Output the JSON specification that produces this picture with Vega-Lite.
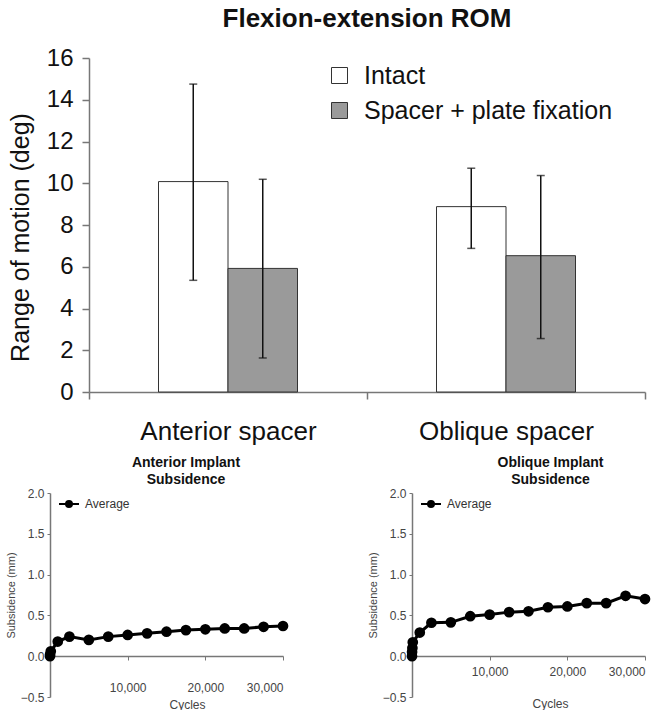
{
  "$schema": "https://vega.github.io/schema/vega-lite/v6.json",
  "background": "white",
  "padding": {"left": 5, "top": 6, "right": 0, "bottom": 0},
  "config": {"font": "Liberation Sans", "view": {"stroke": null}},
  "datasets": {
    "rom": [
      {"approach": "Anterior spacer", "condition": "Intact", "mean": 10.08, "low": 5.35, "high": 14.75},
      {"approach": "Anterior spacer", "condition": "Spacer + plate fixation", "mean": 5.92, "low": 1.63, "high": 10.19},
      {"approach": "Oblique spacer", "condition": "Intact", "mean": 8.88, "low": 6.88, "high": 10.72},
      {"approach": "Oblique spacer", "condition": "Spacer + plate fixation", "mean": 6.53, "low": 2.56, "high": 10.37}
    ],
    "anterior": [
      {"cycles": 0, "subsidence": 0.0, "series": "Average"},
      {"cycles": 10, "subsidence": 0.02, "series": "Average"},
      {"cycles": 100, "subsidence": 0.06, "series": "Average"},
      {"cycles": 1000, "subsidence": 0.18, "series": "Average"},
      {"cycles": 2500, "subsidence": 0.24, "series": "Average"},
      {"cycles": 5000, "subsidence": 0.2, "series": "Average"},
      {"cycles": 7500, "subsidence": 0.24, "series": "Average"},
      {"cycles": 10000, "subsidence": 0.26, "series": "Average"},
      {"cycles": 12500, "subsidence": 0.28, "series": "Average"},
      {"cycles": 15000, "subsidence": 0.3, "series": "Average"},
      {"cycles": 17500, "subsidence": 0.32, "series": "Average"},
      {"cycles": 20000, "subsidence": 0.33, "series": "Average"},
      {"cycles": 22500, "subsidence": 0.34, "series": "Average"},
      {"cycles": 25000, "subsidence": 0.34, "series": "Average"},
      {"cycles": 27500, "subsidence": 0.36, "series": "Average"},
      {"cycles": 30000, "subsidence": 0.37, "series": "Average"}
    ],
    "oblique": [
      {"cycles": 0, "subsidence": 0.0, "series": "Average"},
      {"cycles": 10, "subsidence": 0.05, "series": "Average"},
      {"cycles": 50, "subsidence": 0.1, "series": "Average"},
      {"cycles": 100, "subsidence": 0.17, "series": "Average"},
      {"cycles": 1000, "subsidence": 0.29, "series": "Average"},
      {"cycles": 2500, "subsidence": 0.41, "series": "Average"},
      {"cycles": 5000, "subsidence": 0.415, "series": "Average"},
      {"cycles": 7500, "subsidence": 0.49, "series": "Average"},
      {"cycles": 10000, "subsidence": 0.51, "series": "Average"},
      {"cycles": 12500, "subsidence": 0.54, "series": "Average"},
      {"cycles": 15000, "subsidence": 0.55, "series": "Average"},
      {"cycles": 17500, "subsidence": 0.6, "series": "Average"},
      {"cycles": 20000, "subsidence": 0.61, "series": "Average"},
      {"cycles": 22500, "subsidence": 0.65, "series": "Average"},
      {"cycles": 25000, "subsidence": 0.65, "series": "Average"},
      {"cycles": 27500, "subsidence": 0.74, "series": "Average"},
      {"cycles": 30000, "subsidence": 0.7, "series": "Average"}
    ]
  },
  "spacing": 12,
  "resolve": {"scale": {"color": "independent"}, "legend": {"color": "independent"}},
  "vconcat": [
    {
      "width": 556,
      "height": 334,
      "title": {"text": "Flexion-extension ROM", "fontSize": 26, "fontWeight": "bold", "color": "#111", "offset": 14},
      "data": {"name": "rom"},
      "encoding": {
        "x": {
          "field": "approach", "type": "nominal", "sort": ["Anterior spacer", "Oblique spacer"],
          "scale": {"paddingInner": 0, "paddingOuter": 0},
          "axis": {"title": null, "labelAngle": 0, "labelFontSize": 26, "labelColor": "#111", "labelPadding": 19,
                   "tickBand": "extent", "tickSize": 7, "tickColor": "#777", "tickWidth": 1.5,
                   "domainColor": "#777", "domainWidth": 1.5}
        },
        "xOffset": {
          "field": "condition", "type": "nominal", "sort": ["Intact", "Spacer + plate fixation"],
          "scale": {"paddingInner": 0, "paddingOuter": 1.725}
        }
      },
      "layer": [
        {
          "mark": {"type": "bar", "stroke": "#333", "strokeWidth": 1},
          "encoding": {
            "y": {
              "field": "mean", "type": "quantitative", "scale": {"domain": [0, 16], "nice": false},
              "axis": {"title": "Range of motion (deg)", "titleFontSize": 25, "titleFontWeight": "normal", "titleColor": "#111",
                       "titlePadding": 13, "titleY": 179, "labelFontSize": 24, "labelColor": "#111", "values": [0, 2, 4, 6, 8, 10, 12, 14, 16],
                       "tickSize": 7, "labelPadding": 9, "grid": false, "domainColor": "#777", "tickColor": "#777",
                       "domainWidth": 1.5, "tickWidth": 1.5}
            },
            "fill": {
              "field": "condition", "type": "nominal",
              "scale": {"domain": ["Intact", "Spacer + plate fixation"], "range": ["#ffffff", "#9a9a9a"]},
              "legend": {"title": null, "orient": "none", "legendX": 238, "legendY": 5, "symbolType": "square",
                         "symbolSize": 256, "symbolStrokeColor": "#333", "symbolStrokeWidth": 1,
                         "labelFontSize": 25, "labelColor": "#111", "labelOffset": 12, "labelLimit": 400, "rowPadding": 9}
            }
          }
        },
        {
          "mark": {"type": "rule", "color": "#111", "strokeWidth": 1.5},
          "encoding": {"y": {"field": "low", "type": "quantitative"}, "y2": {"field": "high"}}
        },
        {
          "mark": {"type": "tick", "color": "#111", "thickness": 1.5, "size": 8},
          "encoding": {"y": {"field": "low", "type": "quantitative"}}
        },
        {
          "mark": {"type": "tick", "color": "#111", "thickness": 1.5, "size": 8},
          "encoding": {"y": {"field": "high", "type": "quantitative"}}
        }
      ]
    },
    {
      "spacing": 45,
      "resolve": {"scale": {"color": "independent"}, "legend": {"color": "independent"}},
      "hconcat": [
        {
          "width": 194,
          "height": 204,
          "title": {"text": ["Anterior Implant", "Subsidence"], "fontSize": 14, "fontWeight": "bold", "lineHeight": 17, "dx": 0, "offset": 0, "color": "#111"},
          "data": {"name": "anterior"},
          "mark": {"type": "line", "color": "black", "strokeWidth": 3, "clip": false,
                   "point": {"filled": true, "size": 115, "color": "black"}},
          "encoding": {
            "x": {"field": "cycles", "type": "quantitative", "scale": {"domain": [0, 30000], "nice": false, "range": [-39, 194]},
                  "axis": {"title": "Cycles", "values": [10000, 20000, 30000], "format": ",d", "offset": -41,
                           "labelFontSize": 12, "labelColor": "#444", "labelPadding": 22, "tickSize": 4,
                           "titleFontSize": 12, "titleFontWeight": "normal", "titleColor": "#444", "titlePadding": 6,
                           "titleX": 98, "grid": false, "domainColor": "#777", "tickColor": "#777", "domainWidth": 1.5}},
            "y": {"field": "subsidence", "type": "quantitative", "scale": {"domain": [-0.5, 2], "nice": false},
                  "axis": {"title": "Subsidence (mm)", "values": [-0.5, 0, 0.5, 1, 1.5, 2], "format": ".1f", "offset": 39,
                           "labelFontSize": 12, "labelColor": "#444", "tickSize": 3, "labelPadding": 3,
                           "titleFontSize": 11, "titleFontWeight": "normal", "titleColor": "#444", "titlePadding": 4,
                           "grid": false, "domainColor": "#777", "tickColor": "#777", "domainWidth": 1.5}},
            "color": {"field": "series", "type": "nominal", "scale": {"range": ["black"]},
                      "legend": {"title": null, "orient": "none", "legendX": -31, "legendY": 0,
                                 "symbolType": "M-1,0L1,0M0.3,0A0.3,0.3,0,1,1,-0.3,0A0.3,0.3,0,1,1,0.3,0",
                                 "symbolSize": 400, "symbolStrokeWidth": 2, "symbolFillColor": "black", "symbolStrokeColor": "black",
                                 "labelFontSize": 12, "labelColor": "#333", "labelOffset": 5}}
          }
        },
        {
          "width": 233,
          "height": 204,
          "title": {"text": ["Oblique Implant", "Subsidence"], "fontSize": 14, "fontWeight": "bold", "lineHeight": 17, "dx": 22, "offset": 0, "color": "#111"},
          "data": {"name": "oblique"},
          "mark": {"type": "line", "color": "black", "strokeWidth": 3, "clip": false,
                   "point": {"filled": true, "size": 115, "color": "black"}},
          "encoding": {
            "x": {"field": "cycles", "type": "quantitative", "scale": {"domain": [0, 30000], "nice": false},
                  "axis": {"title": "Cycles", "values": [10000, 20000, 30000], "format": ",d", "offset": -41,
                           "labelFontSize": 12, "labelColor": "#444", "labelPadding": 6, "tickSize": 4,
                           "titleFontSize": 12, "titleFontWeight": "normal", "titleColor": "#444", "titlePadding": 21,
                           "titleX": 138, "grid": false, "domainColor": "#777", "tickColor": "#777", "domainWidth": 1.5}},
            "y": {"field": "subsidence", "type": "quantitative", "scale": {"domain": [-0.5, 2], "nice": false},
                  "axis": {"title": "Subsidence (mm)", "values": [-0.5, 0, 0.5, 1, 1.5, 2], "format": ".1f",
                           "labelFontSize": 12, "labelColor": "#444", "tickSize": 3, "labelPadding": 3,
                           "titleFontSize": 11, "titleFontWeight": "normal", "titleColor": "#444", "titlePadding": 4,
                           "grid": false, "domainColor": "#777", "tickColor": "#777", "domainWidth": 1.5}},
            "color": {"field": "series", "type": "nominal", "scale": {"range": ["black"]},
                      "legend": {"title": null, "orient": "none", "legendX": 8, "legendY": 0,
                                 "symbolType": "M-1,0L1,0M0.3,0A0.3,0.3,0,1,1,-0.3,0A0.3,0.3,0,1,1,0.3,0",
                                 "symbolSize": 400, "symbolStrokeWidth": 2, "symbolFillColor": "black", "symbolStrokeColor": "black",
                                 "labelFontSize": 12, "labelColor": "#333", "labelOffset": 5}}
          }
        }
      ]
    }
  ]
}
